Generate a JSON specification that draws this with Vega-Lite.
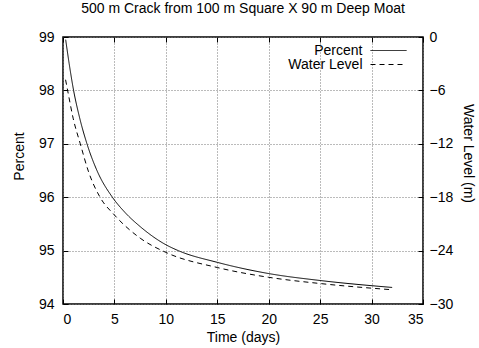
{
  "$schema": "https://vega.github.io/schema/vega-lite/v6.json",
  "width": 360,
  "height": 267,
  "autosize": {"type": "none"},
  "padding": {"left": 63, "top": 37, "right": 56, "bottom": 44},
  "background": "white",
  "title": {"text": "500 m Crack from 100 m Square X 90 m Deep Moat", "fontSize": 14, "fontWeight": "normal", "font": "Liberation Sans", "offset": 14, "color": "black"},
  "config": {
    "font": "Liberation Sans",
    "view": {"stroke": "black", "strokeWidth": 1.5},
    "axis": {"labelFont": "Liberation Sans", "labelFontSize": 14, "labelColor": "black", "titleFont": "Liberation Sans", "titleFontSize": 14, "titleFontWeight": "normal", "titleColor": "black", "domain": false, "tickColor": "black", "tickSize": -5, "gridColor": "#777777", "gridDash": [1, 2], "gridWidth": 1}
  },
  "datasets": {
    "percent": [
      {"t": 0.26, "percent": 98.95},
      {"t": 0.6, "percent": 98.5},
      {"t": 1.03, "percent": 98.0},
      {"t": 1.6, "percent": 97.5},
      {"t": 2.33, "percent": 97.0},
      {"t": 3.3, "percent": 96.5},
      {"t": 4.8, "percent": 96.0},
      {"t": 6.0, "percent": 95.72},
      {"t": 7.5, "percent": 95.45},
      {"t": 10.0, "percent": 95.11},
      {"t": 11.2, "percent": 95.0},
      {"t": 15.0, "percent": 94.78},
      {"t": 20.0, "percent": 94.57},
      {"t": 25.0, "percent": 94.44},
      {"t": 32.0, "percent": 94.31}
    ],
    "level": [
      {"t": 0.25, "level": -4.8},
      {"t": 0.45, "level": -6.0},
      {"t": 1.0, "level": -9.2},
      {"t": 1.68, "level": -12.0},
      {"t": 2.5, "level": -15.2},
      {"t": 3.6, "level": -18.0},
      {"t": 5.0, "level": -20.0},
      {"t": 7.5, "level": -22.6},
      {"t": 10.0, "level": -24.2},
      {"t": 15.0, "level": -25.9},
      {"t": 20.0, "level": -27.0},
      {"t": 25.0, "level": -27.7},
      {"t": 32.0, "level": -28.4}
    ]
  },
  "layer": [
    {
      "data": {"name": "percent"},
      "mark": {"type": "line", "interpolate": "monotone", "color": "black", "strokeWidth": 1},
      "encoding": {
        "x": {"field": "t", "type": "quantitative", "scale": {"domain": [0, 35], "nice": false}, "axis": {"title": "Time (days)", "values": [0, 5, 10, 15, 20, 25, 30, 35], "grid": true, "format": "d", "labelPadding": 13, "titlePadding": 4}},
        "y": {"field": "percent", "type": "quantitative", "scale": {"domain": [94, 99], "nice": false, "zero": false}, "axis": {"title": "Percent", "orient": "left", "values": [94, 95, 96, 97, 98, 99], "grid": true, "format": "d", "labelPadding": 14, "titlePadding": 12, "titleY": 119}},
        "strokeDash": {"datum": "Percent", "type": "nominal", "scale": {"domain": ["Percent", "Water Level"], "range": [[1, 0], [5, 4]]}, "legend": {"title": null, "orient": "none", "legendX": 318.5, "legendY": 6.5, "padding": 0, "symbolType": "M-3,0H3", "symbolSize": 144, "symbolStrokeColor": "black", "symbolStrokeWidth": 1, "symbolFillColor": "transparent", "labelAlign": "right", "labelOffset": -33, "labelFontSize": 14, "labelFont": "Liberation Sans", "labelColor": "black", "rowPadding": -4, "labelLimit": 300}}
      }
    },
    {
      "data": {"name": "level"},
      "mark": {"type": "line", "interpolate": "monotone", "color": "black", "strokeWidth": 1},
      "encoding": {
        "x": {"field": "t", "type": "quantitative", "axis": {"orient": "top", "labels": false, "title": null, "values": [0, 5, 10, 15, 20, 25, 30, 35], "grid": false}},
        "y": {"field": "level", "type": "quantitative", "scale": {"domain": [-30, 0], "nice": false, "zero": false}, "axis": {"title": "Water Level (m)", "orient": "right", "values": [-30, -24, -18, -12, -6, 0], "grid": false, "format": "d", "labelPadding": 11, "titlePadding": 8, "titleY": 116}},
        "strokeDash": {"datum": "Water Level", "type": "nominal"}
      }
    }
  ],
  "resolve": {"scale": {"y": "independent"}, "axis": {"x": "independent"}}
}
